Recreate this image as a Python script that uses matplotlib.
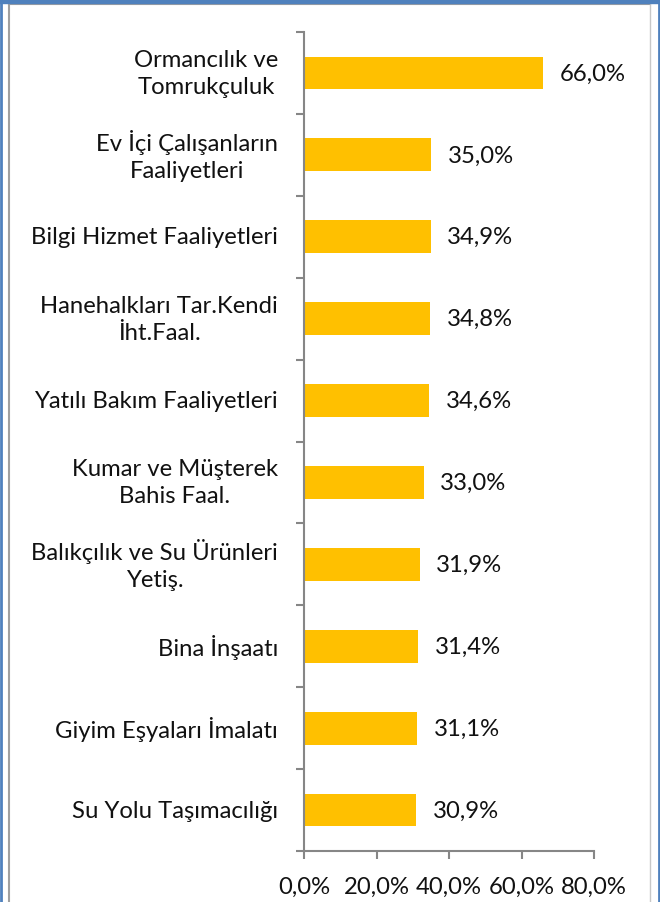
import numpy as np
import matplotlib.pyplot as plt
from matplotlib.lines import Line2D
from matplotlib.patches import Rectangle

categories = ['Ormancılık ve\nTomrukçuluk', 'Ev İçi Çalışanların\nFaaliyetleri',
              'Bilgi Hizmet Faaliyetleri', 'Hanehalkları Tar.Kendi\nİht.Faal.',
              'Yatılı Bakım Faaliyetleri', 'Kumar ve Müşterek\nBahis Faal.',
              'Balıkçılık ve Su Ürünleri\nYetiş.', 'Bina İnşaatı',
              'Giyim Eşyaları İmalatı', 'Su Yolu Taşımacılığı']
values = [66.0, 35.0, 34.9, 34.8, 34.6, 33.0, 31.9, 31.4, 31.1, 30.9]
xticks = [0, 20, 40, 60, 80]

plt.rcParams['font.family'] = ['Lato', 'DejaVu Sans']
W, H = 660, 903
fs = 17.2
fig = plt.figure(figsize=(6.6, 9.03), dpi=100)
ax = fig.add_axes([304 / W, 1 - 852 / H, 290 / W, 819 / H])

n = len(categories)
y = np.arange(n)[::-1]
ax.barh(y, values, height=0.4, color='#FFC000')
for yi, v in zip(y, values):
    ax.text(v + 4.6, yi, f'{v:.1f}%'.replace('.', ','), va='center', ha='left',
            fontsize=fs, color='#111111')

# category labels, each line centred within its block
for yi, lab in zip(y, categories):
    ax.text(-26 / 290, yi, lab, transform=ax.get_yaxis_transform(), ha='right',
            va='center', multialignment='center', linespacing=1.35,
            fontsize=fs, color='#111111')

ax.set_xlim(0, 80)
ax.set_ylim(-0.5, n - 0.5)
ax.set_xticks(xticks)
ax.set_xticklabels([f'{t:.1f}%'.replace('.', ',') for t in xticks], fontsize=fs, color='#111111')
ax.set_yticks(y)
ax.set_yticklabels([])
ax.set_yticks(np.arange(n + 1) - 0.5, minor=True)
ax.tick_params(axis='y', which='major', length=0)
ax.tick_params(axis='y', which='minor', length=6, color='#868686', width=1.5)
ax.tick_params(axis='x', length=6, color='#868686', width=1.5, pad=12)
for s in ['top', 'right']:
    ax.spines[s].set_visible(False)
for s in ['left', 'bottom']:
    ax.spines[s].set_color('#868686')
    ax.spines[s].set_linewidth(1.5)

# frame around the picture
fig.patches.append(Rectangle((0, 1 - 4 / H), 1, 4 / H, transform=fig.transFigure,
                             color='#4F81BD', zorder=5))
fig.lines.append(Line2D([1 / W, 1 / W], [0, 1], transform=fig.transFigure, color='#4F81BD', lw=2))
fig.lines.append(Line2D([658.5 / W, 658.5 / W], [0, 1], transform=fig.transFigure, color='#4F81BD', lw=2))
fig.lines.append(Line2D([9 / W, 9 / W], [0, 1 - 5 / H], transform=fig.transFigure, color='#A0A0A0', lw=1.5))
fig.lines.append(Line2D([9 / W, 650 / W], [1 - 5 / H, 1 - 5 / H], transform=fig.transFigure, color='#A0A0A0', lw=1.5))
fig.lines.append(Line2D([650 / W, 650 / W], [0, 1 - 5 / H], transform=fig.transFigure, color='#C8C8C8', lw=1))

fig.savefig('out.png', dpi=100)
